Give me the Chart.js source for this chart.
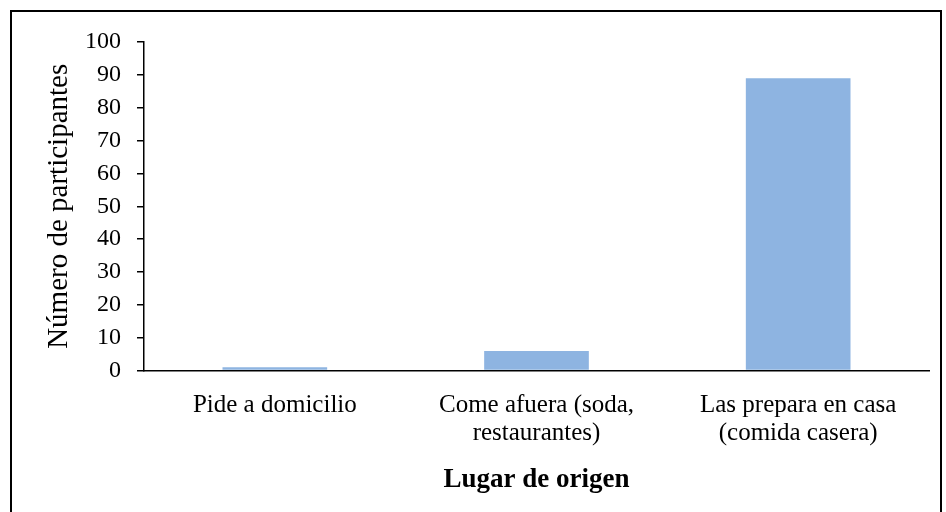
<!DOCTYPE html>
<html>
<head>
<meta charset="utf-8">
<script src="https://cdn.jsdelivr.net/npm/chart.js@4/dist/chart.umd.min.js"></script>
<style>
html,body{margin:0;padding:0;background:#fff;overflow:hidden;}
#wrap{position:absolute;left:0;top:0;width:946px;height:512px;}
#frame{position:absolute;left:10px;top:10px;width:932px;height:520px;border:2px solid #000;box-sizing:border-box;pointer-events:none;}
</style>
</head>
<body>
<div id="wrap"><canvas id="c" width="946" height="512"></canvas></div>
<div id="frame"></div>
<script>
const categories = [["Pide a domicilio"], ["Come afuera (soda,", "restaurantes)"], ["Las prepara en casa", "(comida casera)"]];
const values = [1, 6, 89];
const yTicks = [0, 10, 20, 30, 40, 50, 60, 70, 80, 90, 100];
const xTitle = "Lugar de origen";
const yTitle = "Número de participantes";

const serif = "'Liberation Serif', 'Times New Roman', serif";

new Chart(document.getElementById('c'), {
  type: 'bar',
  data: {
    labels: categories,
    datasets: [{
      data: values,
      backgroundColor: '#8EB4E1',
      borderWidth: 0,
      categoryPercentage: 1.0,
      barPercentage: 0.4
    }]
  },
  options: {
    responsive: false,
    animation: false,
    devicePixelRatio: 1,
    layout: { padding: { left: 40, right: 17, top: 42, bottom: 16 } },
    plugins: { legend: { display: false }, tooltip: { enabled: false } },
    scales: {
      x: {
        grid: { display: false, drawTicks: false },
        border: { color: '#000', width: 1.5 },
        ticks: { color: '#000', font: { family: serif, size: 25, lineHeight: 1.12 }, padding: 21, maxRotation: 0, autoSkip: false },
        title: { display: true, text: xTitle, color: '#000', font: { family: serif, size: 27, weight: 'bold' }, padding: { top: -5, bottom: 0 } }
      },
      y: {
        min: 0, max: 100,
        afterBuildTicks: (s) => { s.ticks = yTicks.map(v => ({ value: v })); },
        afterFit: (s) => { s.width = 104; },
        grid: { display: true, drawOnChartArea: false, drawTicks: true, tickLength: 7, color: '#000', lineWidth: 1.5 },
        border: { color: '#000', width: 1.5 },
        ticks: { color: '#000', font: { family: serif, size: 24 }, padding: 16 },
        title: { display: true, text: yTitle, color: '#000', font: { family: serif, size: 29 }, padding: { top: 2, bottom: 0 } }
      }
    }
  }
});
</script>
</body>
</html>
